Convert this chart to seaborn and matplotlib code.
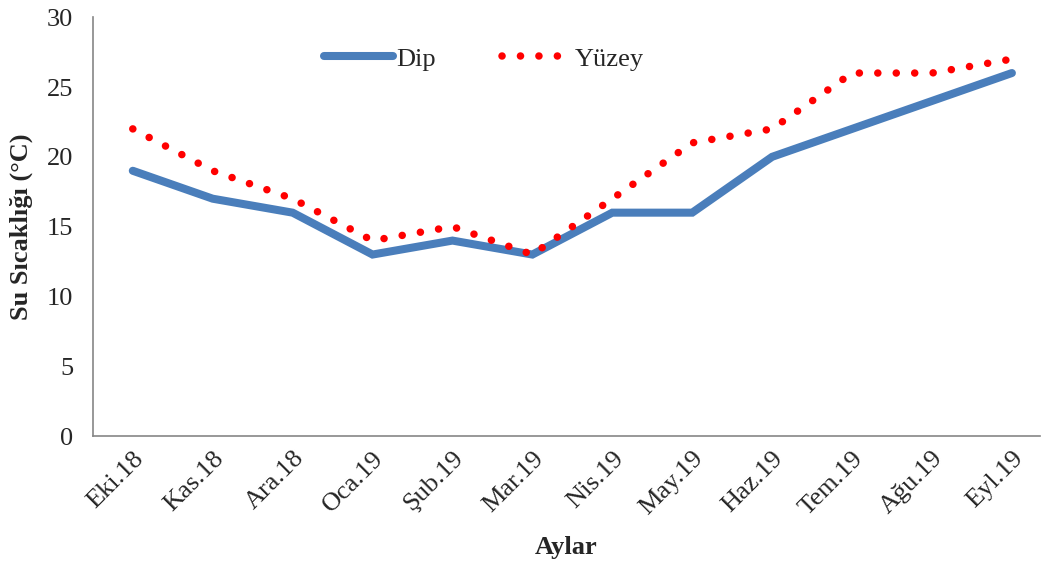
import matplotlib.pyplot as plt
import pandas as pd
import seaborn as sns

# Aylar ve su sıcaklıkları (°C)
months = ["Eki.18", "Kas.18", "Ara.18", "Oca.19", "Şub.19", "Mar.19",
          "Nis.19", "May.19", "Haz.19", "Tem.19", "Ağu.19", "Eyl.19"]
dip = [19, 17, 16, 13, 14, 13, 16, 16, 20, 22, 24, 26]
yuzey = [22, 19, 17, 14, 15, 13, 17, 21, 22, 26, 26, 27]
y_ticks = [0, 5, 10, 15, 20, 25, 30]

sns.set_theme(style="white")
plt.rcParams["font.family"] = ["Liberation Serif", "DejaVu Serif"]

df = pd.DataFrame({"Ay": months, "Dip": dip, "Yüzey": yuzey})

fig, ax = plt.subplots(figsize=(10.43, 5.73), dpi=100)
fig.subplots_adjust(left=0.089, right=0.997, top=0.97, bottom=0.239)

sns.lineplot(data=df, x="Ay", y="Dip", color="#4A7EBB", linewidth=5.8,
             solid_capstyle="round", solid_joinstyle="miter", sort=False,
             label="Dip", ax=ax)
sns.lineplot(data=df, x="Ay", y="Yüzey", color="#FF0000", linewidth=5.4,
             linestyle=(0, (0.01, 2.45)), dash_capstyle="round", sort=False,
             label="Yüzey", ax=ax)

ax.set_ylim(0, 30)
ax.set_yticks(y_ticks)
ax.set_xlim(-0.5, 11.35)
ax.tick_params(axis="y", labelsize=19, length=0, pad=14)
ax.tick_params(axis="x", labelsize=19, length=0, pad=8)
for lbl in ax.get_xticklabels():
    lbl.set_rotation(45)
    lbl.set_ha("right")
    lbl.set_va("top")
    lbl.set_rotation_mode("anchor")

for side in ["top", "right"]:
    ax.spines[side].set_visible(False)
for side in ["left", "bottom"]:
    ax.spines[side].set_color("#868686")
    ax.spines[side].set_linewidth(1.2)

ax.set_xlabel("Aylar", fontsize=19, fontweight="bold", labelpad=12)
ax.set_ylabel("Su Sıcaklığı (°C)", fontsize=19, fontweight="bold", labelpad=10)

ax.legend(loc="upper left", bbox_to_anchor=(0.219, 0.985), ncol=2, frameon=False,
          fontsize=19, handlelength=2.6, handletextpad=0.15, columnspacing=2.5)

fig.savefig("out.png", dpi=100)
